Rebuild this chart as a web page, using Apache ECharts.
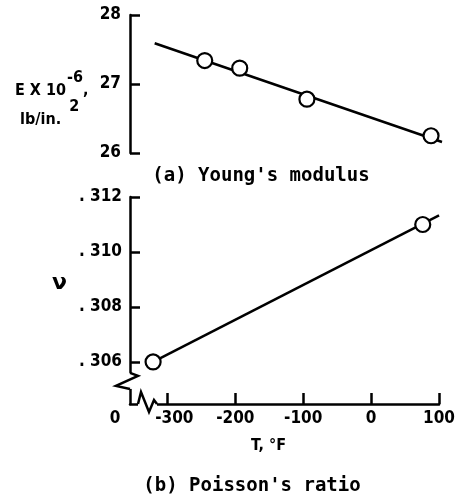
<!DOCTYPE html>
<html><head><meta charset="utf-8">
<script src="https://cdn.jsdelivr.net/npm/echarts@6/dist/echarts.min.js"></script>
<style>html,body{margin:0;padding:0;background:#fff}#c{width:458px;height:504px}</style>
</head><body><div id="c"></div>
<script>
// ---- data ----
const tempE = [-246, -195, -97, 84];
const modulusE = [27.34, 27.23, 26.78, 26.25];
const fitTempE = [-319, 100];
const fitModulusE = [27.59, 26.16];
const tempNu = [-321, 76];
const poissonNu = [0.3060, 0.3110];
const fitTempNu = [-321, 100];
const fitPoissonNu = [0.3060, 0.31133];
const eTicks = [26, 27, 28];
const nuTicks = [0.306, 0.308, 0.310, 0.312];
const tTicks = [-300, -200, -100, 0, 100];
const tOrigin = -355;       // broken-axis origin, labelled "0"
const tMax = 100;
const nuMin = 0.30447, nuMax = 0.312;

const NARROW = '"DejaVu Sans",sans-serif';
const NW = 'bold condensed';
const MONO = '"DejaVu Sans Mono","Liberation Mono",monospace';

const chart = echarts.init(document.getElementById('c'), null, {renderer: 'canvas'});
const zip = (a, b) => a.map((v, i) => [v, b[i]]);
const axisLineStyle = {color: '#000', width: 2.5};
const tickStyle = {show: true, inside: true, length: 10, lineStyle: {color: '#000', width: 2.5}};
const lblStyle = {color: '#000', fontFamily: NARROW, fontWeight: NW, fontSize: 17};
const richBase = {fontFamily: NARROW, fontWeight: NW, fontSize: 17, color: '#000'};

const option = {
  backgroundColor: '#fff',
  animation: false,
  title: [
    {text: '{n|E X 10}{s|-6}{n|,}\n{m|lb/in.}{t|2}', left: 15, top: 70, padding: 0,
     textStyle: {rich: {
       n: {fontFamily: NARROW, fontWeight: NW, fontSize: 16, color: '#000', lineHeight: 29, verticalAlign: 'bottom'},
       m: {fontFamily: NARROW, fontWeight: NW, fontSize: 16, color: '#000', lineHeight: 29, verticalAlign: 'bottom', padding: [0, 0, 0, 5]},
       s: {fontFamily: NARROW, fontWeight: NW, fontSize: 16, color: '#000', lineHeight: 29, verticalAlign: 'top', padding: [0, 0, 0, 1]},
       t: {fontFamily: NARROW, fontWeight: NW, fontSize: 16, color: '#000', lineHeight: 29, verticalAlign: 'top', padding: [0, 0, 0, 8]}
     }}},
    {text: 'ν', left: 52, top: 272, padding: 0,
     textStyle: {fontFamily: '"DejaVu Sans",sans-serif', fontWeight: 'bold', fontSize: 22, color: '#000'}},
    {text: "(a) Young's modulus", left: 261, top: 167, textAlign: 'center', padding: 0,
     textStyle: {fontFamily: MONO, fontWeight: 'bold', fontSize: 19, color: '#000'}},
    {text: "(b) Poisson's ratio", left: 252, top: 477, textAlign: 'center', padding: 0,
     textStyle: {fontFamily: MONO, fontWeight: 'bold', fontSize: 19, color: '#000'}}
  ],
  grid: [
    {left: 130, right: 16, top: 15, bottom: 351},
    {left: 130, right: 16, top: 197, bottom: 100}
  ],
  xAxis: [
    {gridIndex: 0, type: 'value', min: tOrigin, max: tMax, show: false},
    {gridIndex: 1, type: 'value', min: tOrigin, max: tMax,
     name: 'T, °F', nameLocation: 'middle', nameGap: 34,
     nameTextStyle: Object.assign({}, lblStyle, {fontSize: 16, padding: [0, 32, 0, 0]}),
     axisLine: {show: true, onZero: false, lineStyle: axisLineStyle},
     axisTick: Object.assign({}, tickStyle, {customValues: tTicks, length: 11}),
     splitLine: {show: false},
     axisLabel: Object.assign({}, lblStyle, {
       margin: 6,
       customValues: [tOrigin].concat(tTicks),
       formatter: v => v === tOrigin ? '{o|0}' : (v === tTicks[0] ? '{f|' + v + '}' : String(v)),
       rich: {
         o: Object.assign({}, richBase, {padding: [0, 30, 0, 0]}),
         f: Object.assign({}, richBase, {padding: [0, 0, 0, 14]})
       }
     })}
  ],
  yAxis: [
    {gridIndex: 0, type: 'value', min: eTicks[0], max: eTicks[eTicks.length - 1], interval: 1,
     axisLine: {show: true, onZero: false, lineStyle: axisLineStyle},
     axisTick: tickStyle, splitLine: {show: false},
     axisLabel: Object.assign({}, lblStyle, {margin: 9})},
    {gridIndex: 1, type: 'value', min: nuMin, max: nuMax,
     axisLine: {show: true, onZero: false, lineStyle: axisLineStyle},
     axisTick: Object.assign({}, tickStyle, {customValues: nuTicks}),
     splitLine: {show: false},
     axisLabel: Object.assign({}, lblStyle, {margin: 8, customValues: nuTicks,
       formatter: v => '. ' + Math.round(v * 1000)})}
  ],
  series: [
    {type: 'line', xAxisIndex: 0, yAxisIndex: 0, data: zip(fitTempE, fitModulusE), showSymbol: false,
     lineStyle: {color: '#000', width: 2.5}, z: 2},
    {type: 'scatter', xAxisIndex: 0, yAxisIndex: 0, data: zip(tempE, modulusE), symbol: 'circle', symbolSize: 15,
     itemStyle: {color: '#fff', borderColor: '#000', borderWidth: 2.2, opacity: 1}, z: 3},
    {type: 'line', xAxisIndex: 1, yAxisIndex: 1, data: zip(fitTempNu, fitPoissonNu), showSymbol: false,
     lineStyle: {color: '#000', width: 2.5}, z: 2},
    {type: 'scatter', xAxisIndex: 1, yAxisIndex: 1, data: zip(tempNu, poissonNu), symbol: 'circle', symbolSize: 15,
     itemStyle: {color: '#fff', borderColor: '#000', borderWidth: 2.2, opacity: 1}, z: 3}
  ]
};
chart.setOption(option);

// axis-break zigzags (decoration), placed relative to the axes
const o = chart.convertToPixel({xAxisIndex: 1, yAxisIndex: 1}, [tOrigin, nuMin]);
const ax = o[0], ay = o[1];
const y0 = chart.convertToPixel({xAxisIndex: 1, yAxisIndex: 1}, [tOrigin, nuTicks[0]])[1] + 11;
const zig = {stroke: '#000', lineWidth: 2.5, fill: null, lineJoin: 'miter'};
chart.setOption({graphic: [
  {type: 'rect', shape: {x: ax - 3, y: y0, width: 6, height: 16}, style: {fill: '#fff'}, z: 100},
  {type: 'polyline', shape: {points: [[ax, y0], [ax + 8, y0 + 3], [ax - 14, y0 + 13], [ax, y0 + 16]]}, style: zig, z: 101},
  {type: 'rect', shape: {x: ax + 8, y: ay - 3, width: 19, height: 6}, style: {fill: '#fff'}, z: 100},
  {type: 'polyline', shape: {points: [[ax + 8, ay], [ax + 11, ay - 12], [ax + 19, ay + 8], [ax + 24, ay - 4], [ax + 27, ay]]}, style: zig, z: 101}
]});
</script></body></html>
